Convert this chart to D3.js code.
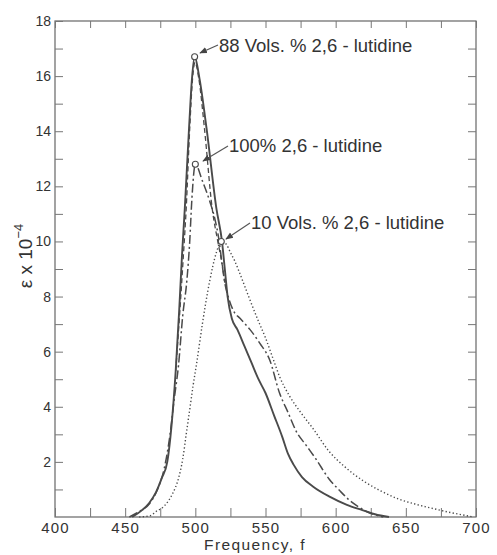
<!DOCTYPE html>
<html><head><meta charset="utf-8">
<script src="https://cdn.jsdelivr.net/npm/d3@7"></script>
<style>
html,body{margin:0;padding:0;background:#fff;}
svg{display:block;}
text{font-family:"Liberation Sans",Arial,sans-serif;fill:#333;}
</style></head>
<body>
<svg id="chart" width="497" height="555"></svg>
<script>
// ---- data ----
const xTickLabels = [400, 450, 500, 550, 600, 650, 700];
const yTickLabels = [2, 4, 6, 8, 10, 12, 14, 16, 18];

// 88 Vols.% 2,6-lutidine (solid)
const solidF = [455,462,467,472,476,480,483,486,488.5,490.5,492.5,495.5,497.6,499.5,503,508,515,519,521,523,526,530,535,540,545,550,556,562,566,570,576,584,596,608,619,628,638];
const solidE = [0,0.25,0.5,0.9,1.4,2.0,3.3,5.3,7.5,9.5,11.2,14.1,15.9,16.7,15.9,14.1,11.2,10.0,9.0,8.0,7.2,6.8,6.2,5.6,5.0,4.5,3.7,2.9,2.3,1.9,1.45,1.1,0.73,0.44,0.25,0.1,0];

// dashed trace along the main peak
const dashF = [486,489,491.5,493.5,496,498,499.8,502.5,506.5,512,516,519,521];
const dashE = [5.3,7.5,9.5,11.2,14.1,15.9,16.5,15.9,14.1,11.2,10.0,9.2,8.5];

// 100% 2,6-lutidine (dash-dot)
const ddF = [453,460,467.6,473,478,482,485,488,491,494,496,497.5,500,505,510,514,517,519,521,524,527,532,539,546,553,560,566,572,579,586,595,603,610,616,622,628,634];
const ddE = [0,0.2,0.5,1.0,1.8,3.0,4.3,5.5,7.3,8.6,10.0,11.5,12.8,12.2,11.5,10.8,10.0,9.2,8.5,7.9,7.5,7.2,6.8,6.3,5.7,4.5,3.8,3.1,2.6,2.1,1.4,0.95,0.6,0.38,0.2,0.08,0];

// 10 Vols.% 2,6-lutidine (dotted)
const dotF = [460,468,472,477,481,484,488,491,493.5,496,498.5,501,505,510,515,518.5,522,525,528,532,538,545,550,555,560,567,575,584,595,607,620,632,645,658,670,682,692,698];
const dotE = [0,0.05,0.2,0.36,0.6,0.87,1.4,2.1,3.0,3.9,4.8,5.6,7.0,8.5,9.6,10.0,9.9,9.6,9.3,8.8,8.0,7.1,6.5,5.8,5.1,4.4,3.8,3.2,2.4,1.8,1.3,0.95,0.65,0.45,0.3,0.16,0.06,0];

const labels = ["88 Vols. % 2,6 - lutidine", "100% 2,6 - lutidine", "10 Vols. % 2,6 - lutidine"];
const peakF = [499.5, 500, 518.5];
const peakE = [16.7, 12.8, 10.0];

// ---- layout ----
const svg = d3.select("#chart");
const L = 55, R = 476, T = 21, B = 517;
const x = d3.scaleLinear().domain([400, 700]).range([L, R]);
const y = d3.scaleLinear().domain([0, 18]).range([B, T]);
const ink = "#4a4a4a";

// frame
svg.append("rect").attr("x", L).attr("y", T).attr("width", R - L).attr("height", B - T)
  .attr("fill", "none").attr("stroke", "#666").attr("stroke-width", 1.2);

const xMinor = d3.range(400, 701, 25);
const yMinor = d3.range(0, 19, 1);

// bottom axis
const gx = svg.append("g").attr("transform", `translate(0,${B})`)
  .call(d3.axisBottom(x).tickValues(xMinor).tickSize(-9).tickPadding(5)
    .tickFormat(d => xTickLabels.includes(d) ? d : ""));
gx.selectAll("text").attr("font-size", 15).attr("letter-spacing", 1.2).attr("fill", "#333");
gx.select(".domain").remove();
gx.selectAll("line").attr("stroke", "#777");

// top axis
const gt = svg.append("g").attr("transform", `translate(0,${T})`)
  .call(d3.axisTop(x).tickValues(xMinor).tickSize(-7).tickFormat(""));
gt.select(".domain").remove();
gt.selectAll("line").attr("stroke", "#777");

// left axis
const gy = svg.append("g").attr("transform", `translate(${L},0)`)
  .call(d3.axisLeft(y).tickValues(yMinor.filter(d => d > 0)).tickSize(-8).tickPadding(4)
    .tickFormat(d => yTickLabels.includes(d) ? d : ""));
gy.selectAll("text").attr("font-size", 14).attr("fill", "#333");
gy.select(".domain").remove();
gy.selectAll("line").attr("stroke", "#777");

// right axis
const gr = svg.append("g").attr("transform", `translate(${R},0)`)
  .call(d3.axisRight(y).tickValues(yMinor.filter(d => d > 0 && d < 18)).tickSize(-8).tickFormat(""));
gr.select(".domain").remove();
gr.selectAll("line").attr("stroke", "#777");

// axis titles
svg.append("text").attr("x", 255).attr("y", 550).attr("text-anchor", "middle")
  .attr("font-size", 15.5).attr("letter-spacing", 1.4).text("Frequency, f");
const yl = svg.append("text").attr("transform", "translate(32,256) rotate(-90)")
  .attr("text-anchor", "middle").attr("font-size", 19);
yl.append("tspan").text("\u03B5 x 10");
yl.append("tspan").attr("dy", -9).attr("font-size", 13).text("\u22124");

// curves
const line = d3.line().x(d => x(d[0])).y(d => y(d[1])).curve(d3.curveMonotoneX);
const zip = (a, b) => a.map((v, i) => [v, b[i]]);
const series = [
  {f: dotF, e: dotE, dash: "1.3,2.3", w: 1.4},
  {f: ddF, e: ddE, dash: "9,3,2,3", w: 1.5},
  {f: dashF, e: dashE, dash: "5,3", w: 1.3},
  {f: solidF, e: solidE, dash: null, w: 1.9}
];
series.forEach(s => {
  svg.append("path").datum(zip(s.f, s.e)).attr("d", line)
    .attr("fill", "none").attr("stroke", ink).attr("stroke-width", s.w)
    .attr("stroke-dasharray", s.dash).attr("stroke-linejoin", "round");
});

// markers
peakF.forEach((f, i) => {
  svg.append("circle").attr("cx", x(f)).attr("cy", y(peakE[i])).attr("r", 3)
    .attr("fill", "#fff").attr("stroke", ink).attr("stroke-width", 1.1);
});

// annotations
svg.append("defs").append("marker").attr("id", "arr").attr("viewBox", "0 0 10 10")
  .attr("refX", 9).attr("refY", 5).attr("markerWidth", 7).attr("markerHeight", 7)
  .attr("orient", "auto").append("path").attr("d", "M0,1 L10,5 L0,9 Z").attr("fill", "#444");
const labelPos = [[218, 45], [228, 145], [250, 222]];
const arrowTip = [[200, 53], [203, 161], [226, 239]];
labels.forEach((t, i) => {
  svg.append("line").attr("x1", labelPos[i][0]).attr("y1", labelPos[i][1] + (i === 0 ? 0 : 1))
    .attr("x2", arrowTip[i][0]).attr("y2", arrowTip[i][1])
    .attr("stroke", "#555").attr("stroke-width", 1.1).attr("marker-end", "url(#arr)");
  svg.append("text").attr("x", labelPos[i][0] + 1).attr("y", labelPos[i][1] + 7)
    .attr("font-size", 18.5).text(t);
});
</script>
</body></html>
